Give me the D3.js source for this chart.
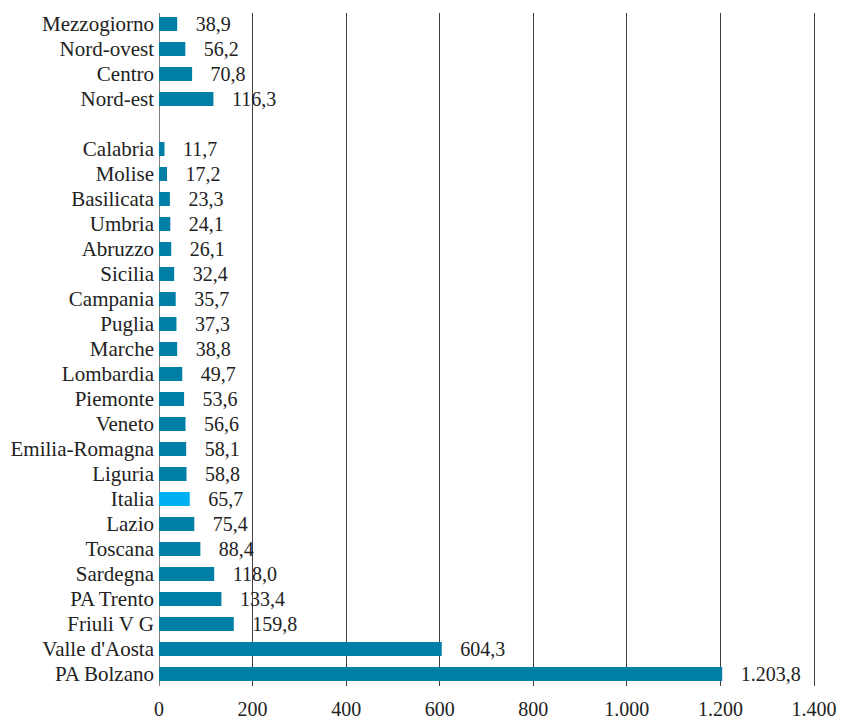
<!DOCTYPE html>
<html><head><meta charset="utf-8">
<script src="https://cdn.jsdelivr.net/npm/d3@7"></script>
<style>body{margin:0;background:#fff}</style>
</head><body>
<svg id="c" width="842" height="719"></svg>
<script>
const categories = ["Mezzogiorno","Nord-ovest","Centro","Nord-est","",
 "Calabria","Molise","Basilicata","Umbria","Abruzzo","Sicilia","Campania","Puglia","Marche",
 "Lombardia","Piemonte","Veneto","Emilia-Romagna","Liguria","Italia","Lazio","Toscana",
 "Sardegna","PA Trento","Friuli V G","Valle d'Aosta","PA Bolzano"];
const values = [38.9,56.2,70.8,116.3,null,
 11.7,17.2,23.3,24.1,26.1,32.4,35.7,37.3,38.8,
 49.7,53.6,56.6,58.1,58.8,65.7,75.4,88.4,
 118.0,133.4,159.8,604.3,1203.8];
const highlight = ["Italia"];
const xTicks = [0,200,400,600,800,1000,1200,1400];

const data = categories.map((c,i)=>({key: c===""?"__gap":c, label:c, v:values[i]}));
const loc = d3.formatLocale({decimal:",",thousands:".",grouping:[3],currency:["","€"]});
const fv = loc.format(",.1f"), ft = loc.format(",d");

const svg = d3.select("#c");
const font = "'Liberation Serif','Times New Roman',serif";
const fs = 21;
const x = d3.scaleLinear().domain([0,1400]).range([158.5,813.5]);
const y = d3.scaleBand().domain(data.map(d=>d.key)).range([11.5,686.5]).paddingInner(0.44).paddingOuter(0.22);

// gridlines
svg.append("g").selectAll("line").data(xTicks).join("line")
  .attr("x1",d=>Math.round(x(d))+0.5).attr("x2",d=>Math.round(x(d))+0.5)
  .attr("y1",13).attr("y2",686)
  .attr("stroke",d=>d===0?"#7f7f7f":"#404040").attr("stroke-width",1);

// bars
svg.append("g").selectAll("rect").data(data.filter(d=>d.v!=null)).join("rect")
  .attr("x",x(0)+0.5).attr("y",d=>y(d.key))
  .attr("width",d=>x(d.v)-x(0)).attr("height",y.bandwidth())
  .attr("fill",d=>highlight.includes(d.label)?"#00B0F0":"#007FA6");

// value labels
svg.append("g").selectAll("text").data(data.filter(d=>d.v!=null)).join("text")
  .attr("x",d=>x(d.v)+19).attr("y",d=>y(d.key)+y.bandwidth()/2)
  .attr("dy","0.35em").attr("font-family",font).attr("font-size",20).attr("fill","#222")
  .text(d=>fv(d.v));

// category labels
svg.append("g").selectAll("text").data(data.filter(d=>d.label!=="")).join("text")
  .attr("x",154).attr("y",d=>y(d.key)+y.bandwidth()/2)
  .attr("dy","0.35em").attr("text-anchor","end")
  .attr("font-family",font).attr("font-size",fs).attr("fill","#222")
  .text(d=>d.label);

// x axis tick labels
const ax = svg.append("g").attr("transform","translate(0,686)")
  .call(d3.axisBottom(x).tickValues(xTicks).tickFormat(ft).tickSize(0).tickPadding(16));
ax.select(".domain").remove();
ax.selectAll("text").attr("font-family",font).attr("font-size",20).attr("fill","#222");
</script>
</body></html>
